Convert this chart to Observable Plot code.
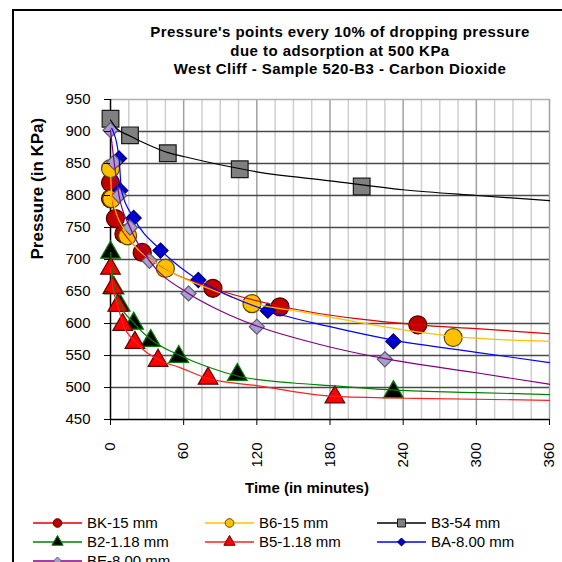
<!DOCTYPE html>
<html><head><meta charset="utf-8">
<script src="https://cdn.jsdelivr.net/npm/d3@7"></script>
<script src="https://cdn.jsdelivr.net/npm/@observablehq/plot@0.6"></script>
<style>
body{margin:0;background:#fff;font-family:"Liberation Sans",Arial,sans-serif;}
#wrap{position:relative;width:562px;height:562px;overflow:hidden;background:#fff;}
#border{position:absolute;left:12px;top:9px;width:800px;height:800px;border:2px solid #000;}
#chart{position:absolute;left:0;top:0;}
#title{position:absolute;left:120px;width:440px;top:23px;text-align:center;font-weight:bold;font-size:15px;letter-spacing:0.45px;line-height:18.5px;color:#000;}
#legend{position:absolute;left:0;top:505px;width:562px;height:70px;}
</style></head>
<body><div id="wrap"><div id="border"></div><div id="chart"></div>
<div id="title">Pressure's points every 10% of dropping pressure<br>due to adsorption at 500 KPa<br>West Cliff - Sample 520-B3 - Carbon Dioxide</div>
<div id="legend"></div></div>
<script>
// ---- data ----
const seriesNames = ["BK-15 mm","B6-15 mm","B3-54 mm","B2-1.18 mm","B5-1.18 mm","BA-8.00 mm","BE-8.00 mm"];
const yTicks = [450,500,550,600,650,700,750,800,850,900,950];
const xTicks = [0,60,120,180,240,300,360];

// measured points (time in minutes, pressure in KPa)
const bkTime = [0,0,4,11,26,84,139,252];
const bkPressure = [820,795,764,740,711,655,626,598];
const b6Time = [0,1,14,45,116,281];
const b6Pressure = [842,795,737,686,631,578];
const b3Time = [0,16,47,106,206];
const b3Pressure = [920,894,866,841,814];
const b2Time = [0,3,8,19,33,56,104,232];
const b2Pressure = [711,655,628,600,573,548,520,493];
const b5Time = [0,2,6,10,20,39,80,184];
const b5Pressure = [686,656,628,598,570,542,514,485];
const baTime = [7,8,19,41,72,129,232];
const baPressure = [858,808,765,714,668,620,572];
const beTime = [0,3,7,16,32,64,120,225];
const bePressure = [902,852,800,750,698,647,595,544];

// trend lines
const bkLineTime = [0,4,11,26,50,84,139,200,252,300,360];
const bkLinePressure = [822,765,741,711,680,655,627,608,598,592,584];
const b6LineTime = [0,1,14,45,80,116,160,200,240,281,300,360];
const b6LinePressure = [842,800,738,686,655,632,617,603,590,580,577,572];
const b3LineTime = [0,5,16,30,47,60,90,120,180,240,300,360];
const b3LinePressure = [918,905,893,880,867,861,848,837,823,809,800,792];
const b2LineTime = [0,3,8,19,33,57,80,104,150,180,234,300,360];
const b2LinePressure = [711,657,629,601,575,550,532,518,507,503,496,492,489];
const b5LineTime = [0,2,6,10,20,40,57,80,120,184,250,360];
const b5LinePressure = [686,656,628,600,572,543,531,514,503,486,483,480];
const baLineTime = [1,7,9,19,41,72,100,129,180,232,300,360];
const baLinePressure = [905,858,808,765,715,668,641,620,595,574,555,539];
const beLineTime = [0,3,7,16,32,64,90,120,170,225,300,360];
const beLinePressure = [902,852,800,750,698,647,620,596,568,545,523,505];

// ---- styles ----
const styles = [
  {line:"#e00000", fill:"#c00000", stroke:"#4a0000", symbol:"circle", r:9, lr:4.3},
  {line:"#ffc000", fill:"#ffc000", stroke:"#5a4a00", symbol:"circle", r:9, lr:4.3},
  {line:"#000000", fill:"#808080", stroke:"#1a1a1a", symbol:"square", r:9.4, lr:4.5},
  {line:"#008000", fill:"#000000", stroke:"#008000", symbol:"triangle", r:7.3, lr:4.2},
  {line:"#ff2020", fill:"#ff0000", stroke:"#600000", symbol:"triangle", r:7.3, lr:4.2},
  {line:"#0000ff", fill:"#0000c8", stroke:"#000060", symbol:"diamond2", r:6.8, lr:3.6},
  {line:"#800080", fill:"#a8a0cc", stroke:"#605870", symbol:"diamond2", r:6.8, lr:3.6}
];
const pts = [[bkTime,bkPressure],[b6Time,b6Pressure],[b3Time,b3Pressure],[b2Time,b2Pressure],[b5Time,b5Pressure],[baTime,baPressure],[beTime,bePressure]];
const curves = [[bkLineTime,bkLinePressure],[b6LineTime,b6LinePressure],[b3LineTime,b3LinePressure],[b2LineTime,b2LinePressure],[b5LineTime,b5LinePressure],[baLineTime,baLinePressure],[beLineTime,beLinePressure]];

const toRows = ([t,p]) => t.map((v,i)=>({t:v, p:p[i]}));

const marks = [];
// grid
const minor = d3.range(15, 360, 15).filter(d => d % 60 !== 0);
const major = xTicks.filter(d => d > 0 && d < 360);
marks.push(Plot.ruleX(minor, {stroke:"#cfcfcf", strokeWidth:1.5}));
marks.push(Plot.ruleX(major, {stroke:"#a0a0a0", strokeWidth:1.5}));
marks.push(Plot.ruleY(yTicks.filter(d => d > 450 && d < 950), {stroke:"#4a4a4a", strokeWidth:1.5}));
marks.push(Plot.ruleY([950], {stroke:"#b0b0b0", strokeWidth:1.5}));
marks.push(Plot.ruleX([360], {stroke:"#a0a0a0", strokeWidth:1.5}));
marks.push(Plot.ruleX([0], {stroke:"#000", strokeWidth:1.5}));
marks.push(Plot.ruleY([450], {stroke:"#000", strokeWidth:1.5}));
// markers then trend lines, series in order
pts.forEach((s, i) => {
  const st = styles[i];
  marks.push(Plot.dot(toRows(s), {x:"t", y:"p", symbol: st.symbol, r: st.r, fill: st.fill, stroke: st.stroke, strokeWidth:1.2}));
});
curves.forEach((s, i) => {
  marks.push(Plot.line(toRows(s), {x:"t", y:"p", stroke: styles[i].line, strokeWidth:1.2, curve:"monotone-x"}));
});
// axes
marks.push(Plot.axisY({ticks: yTicks, tickSize: 6, tickPadding: 14, label: null, fontSize: 15}));
marks.push(Plot.axisX({ticks: xTicks, tickSize: 6, tickFormat: () => "", label: null}));
marks.push(Plot.text(xTicks, {x: d => d, frameAnchor: "bottom", dy: 23, rotate: -90, textAnchor: "end", lineAnchor: "middle", fontSize: 15, text: d => String(d)}));
marks.push(Plot.text(["Time (in minutes)"], {frameAnchor: "bottom", dy: 73, dx: -23, fontWeight: "bold", fontSize: 15}));
marks.push(Plot.text(["Pressure (in KPa)"], {frameAnchor: "left", dx: -73, rotate: -90, fontWeight: "bold", fontSize: 17}));

const chart = Plot.plot({
  width: 562, height: 562,
  marginLeft: 110, marginRight: 13, marginTop: 99, marginBottom: 143,
  x: {domain: [0, 360]},
  y: {domain: [450, 950]},
  style: {fontFamily: "'Liberation Sans', Arial, sans-serif", fontSize: "15px", color: "#000", background: "transparent", overflow: "visible"},
  marks
});
document.getElementById("chart").appendChild(chart);

// ---- legend ----
const cols = [33, 205, 377], rows = [18, 37, 56];
const lg = d3.select("#legend").append("svg").attr("width", 562).attr("height", 70);
const symMap = {circle: d3.symbolCircle, square: d3.symbolSquare, triangle: d3.symbolTriangle, diamond2: d3.symbolDiamond2};
seriesNames.forEach((name, i) => {
  const st = styles[i];
  const x = cols[i % 3], y = rows[Math.floor(i / 3)];
  const g = lg.append("g").attr("transform", `translate(${x},${y})`);
  g.append("line").attr("x1", 0).attr("x2", 49).attr("y1", 0).attr("y2", 0).attr("stroke", st.line).attr("stroke-width", 1.3);
  g.append("path").attr("transform", "translate(24.5,0)")
    .attr("d", d3.symbol(symMap[st.symbol], Math.PI * st.lr * st.lr)())
    .attr("fill", st.fill).attr("stroke", st.stroke).attr("stroke-width", 1);
  g.append("text").attr("x", 54).attr("y", 0).attr("dy", "0.35em")
    .attr("font-size", 15).attr("font-family", "'Liberation Sans', Arial, sans-serif").text(name);
});
</script>
</body></html>
